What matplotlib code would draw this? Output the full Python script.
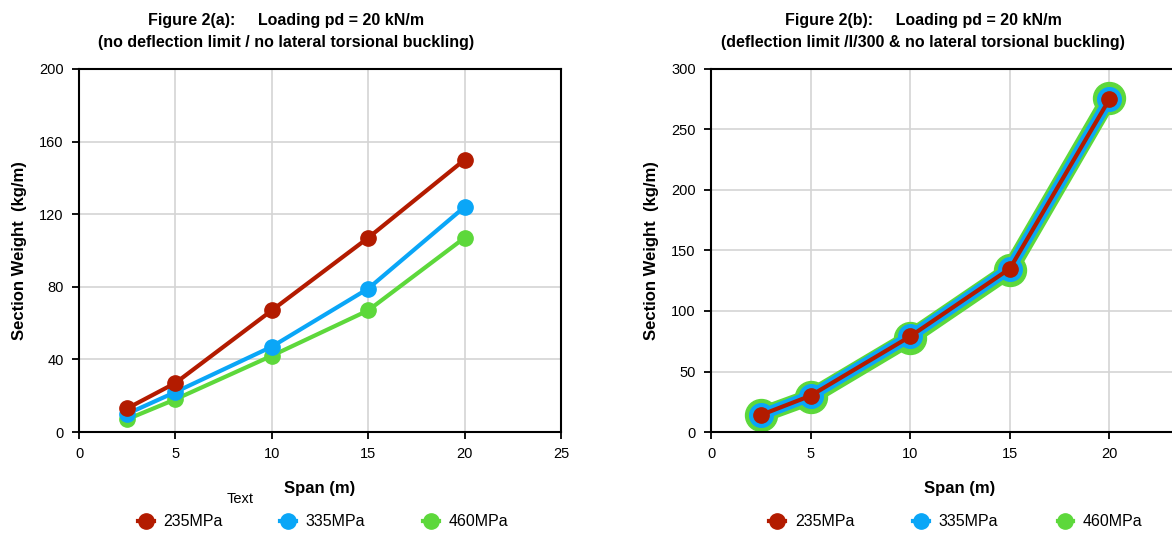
import matplotlib.pyplot as plt
from matplotlib.lines import Line2D

plt.rcParams['font.family'] = ['Liberation Sans', 'DejaVu Sans']

# Data

span = [2.5, 5, 10, 15, 20]
grades = ['235MPa', '335MPa', '460MPa']
colors = ['#B31B00', '#0AA6F7', '#5DD83B']

# Figure 2(a): no deflection limit
weight_a_235 = [13, 27, 67, 107, 150]
weight_a_335 = [10, 22, 47, 79, 124]
weight_a_460 = [7, 18, 42, 67, 107]

# Figure 2(b): deflection limit l/300
weight_b_235 = [14, 30, 79, 135, 275]
weight_b_335 = [14, 30, 79, 135, 275]
weight_b_460 = [14, 29, 78, 134, 276]

W, H = 1172, 533

fig = plt.figure(figsize=(W / 100, H / 100), dpi=100)

ax1 = fig.add_axes([79 / W, 1 - 432 / H, (561 - 79) / W, (432 - 69) / H])
ax2 = fig.add_axes([711 / W, 1 - 432 / H, (1209 - 711) / W, (432 - 69) / H])


def format_axes(ax, ymax, ystep, xmax_tick):
    ax.set_xlim(0, 25)
    ax.set_ylim(0, ymax)
    ax.set_xticks(range(0, xmax_tick + 1, 5))
    ax.set_yticks(range(0, ymax + 1, ystep))
    ax.grid(color='#d4d4d4', linewidth=1.2)
    ax.set_axisbelow(True)
    for s in ax.spines.values():
        s.set_linewidth(1.5)
    ax.tick_params(direction='out', length=5, width=1.3, labelsize=10.5, pad=6)
    ax.set_xlabel('Span (m)', fontsize=12, fontweight='bold', labelpad=14)
    ax.set_ylabel('Section Weight  (kg/m)', fontsize=12, fontweight='bold', labelpad=9)


# left chart
for w, c in zip([weight_a_235, weight_a_335, weight_a_460][::-1], colors[::-1]):
    ax1.plot(span, w, color=c, linewidth=3, marker='o', markersize=11, clip_on=False)
format_axes(ax1, 200, 40, 25)

# right chart - curves sit on top of each other
ax2.plot(span, weight_b_460, color=colors[2], linewidth=12, marker='o', markersize=23,
         clip_on=False, solid_joinstyle='round')
ax2.plot(span, weight_b_335, color=colors[1], linewidth=8, marker='o', markersize=17,
         clip_on=False, solid_joinstyle='round')
ax2.plot(span, weight_b_235, color=colors[0], linewidth=3, marker='o', markersize=11,
         clip_on=False)
format_axes(ax2, 300, 50, 20)
ax2.set_xticks([25], minor=True)
ax2.grid(which='minor', axis='x', color='#d4d4d4', linewidth=1.2)

# titles
fig.text(286 / W, 1 - 20 / H, 'Figure 2(a):     Loading pd = 20 kN/m',
         ha='center', va='center', fontsize=11.5, fontweight='bold')
fig.text(286 / W, 1 - 42 / H, '(no deflection limit / no lateral torsional buckling)',
         ha='center', va='center', fontsize=11.5, fontweight='bold')
fig.text(923 / W, 1 - 20 / H, 'Figure 2(b):     Loading pd = 20 kN/m',
         ha='center', va='center', fontsize=11.5, fontweight='bold')
fig.text(923 / W, 1 - 42 / H, '(deflection limit /l/300 & no lateral torsional buckling)',
         ha='center', va='center', fontsize=11.5, fontweight='bold')

fig.text(240 / W, 1 - 499 / H, 'Text', ha='center', va='center', fontsize=10.5)

# legends
handles = [Line2D([0], [0], color=c, linewidth=3, marker='o', markersize=11) for c in colors]
fig.legend(handles, grades, loc='center', bbox_to_anchor=(323 / W, 1 - 522 / H), ncol=3,
           frameon=False, fontsize=11.5, handlelength=1.0, columnspacing=3.6, handletextpad=0.6)
fig.legend(handles, grades, loc='center', bbox_to_anchor=(956 / W, 1 - 522 / H), ncol=3,
           frameon=False, fontsize=11.5, handlelength=1.0, columnspacing=3.7, handletextpad=0.6)

fig.savefig('out.png', dpi=100)
